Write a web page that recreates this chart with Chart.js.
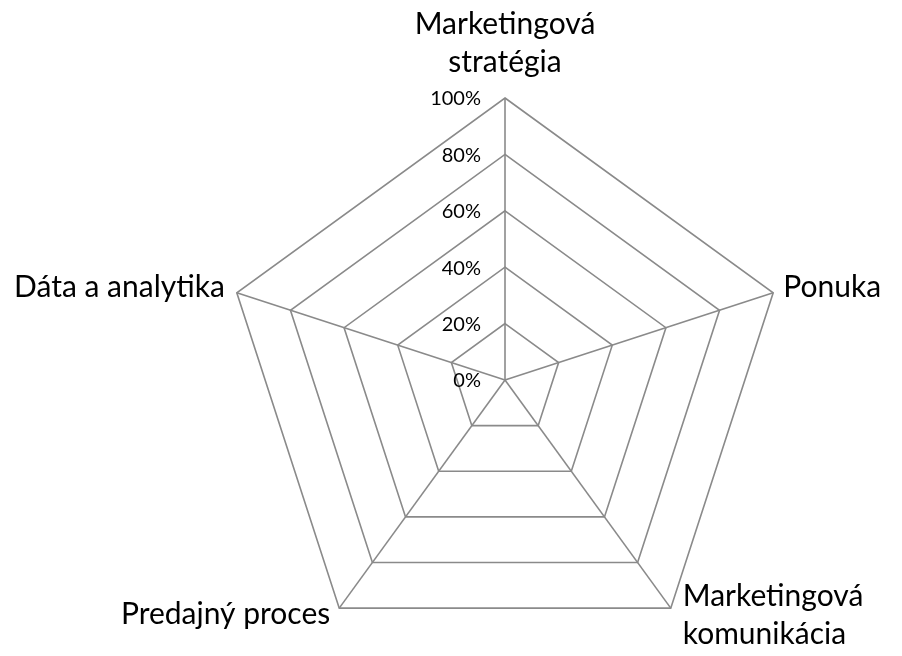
<!DOCTYPE html>
<html>
<head>
<meta charset="utf-8">
<script src="https://cdn.jsdelivr.net/npm/chart.js@4"></script>
<style>
  html, body { margin: 0; padding: 0; background: #fff; overflow: hidden; }
  #wrap { width: 902px; height: 656px; }
</style>
</head>
<body>
<div id="wrap"><canvas id="radarChart"></canvas></div>
<script>
// Categorias (eixos do radar)
const categories = [
    ['Marketingová', 'stratégia'],
    'Ponuka',
    ['Marketingová', 'komunikácia'],
    'Predajný proces',
    'Dáta a analytika'
];
// Série vazia no original (nenhuma área visível)
const seriesValues = [0, 0, 0, 0, 0];
// Marcas da escala radial
const tickValues = [0, 20, 40, 60, 80, 100];
const tickLabels = ['0%', '20%', '40%', '60%', '80%', '100%'];

const gridColor = '#8a8a8a';
const fontFamily = 'Lato, "Open Sans", sans-serif';

// Posição de cada rótulo em relação ao vértice externo: [alinhamento, dx, dy da 1a linha de base]
const labelPlacement = [
    ['center', 0, -64],
    ['left', 10, 4],
    ['left', 12, -2],
    ['right', -9, 16],
    ['right', -12, 4]
];

// Plugin que desenha rótulos dos eixos e das marcas usando a escala do Chart.js
const labelsPlugin = {
    id: 'radarLabels',
    afterDraw(chart) {
        const scale = chart.scales.r;
        const c = chart.ctx;
        c.save();
        c.fillStyle = '#000';

        // rótulos das marcas (0% ... 100%)
        c.font = '20px ' + fontFamily;
        c.textAlign = 'right';
        c.textBaseline = 'middle';
        tickValues.forEach((v, i) => {
            const d = scale.getDistanceFromCenterForValue(v);
            c.fillText(tickLabels[i], scale.xCenter - 24, scale.yCenter - d + 1);
        });

        // rótulos das categorias
        c.font = '30px ' + fontFamily;
        c.textBaseline = 'alphabetic';
        categories.forEach((lab, i) => {
            const p = scale.getPointPosition(i, scale.drawingArea);
            const [align, dx, dy] = labelPlacement[i];
            const lines = Array.isArray(lab) ? lab : [lab];
            c.textAlign = align;
            lines.forEach((t, k) => {
                c.fillText(t, p.x + dx, p.y + dy + k * 38);
            });
        });
        c.restore();
    }
};

new Chart(document.getElementById('radarChart'), {
    type: 'radar',
    data: {
        labels: categories,
        datasets: [{
            label: 'Séria 1',
            data: seriesValues,
            borderWidth: 0,
            pointRadius: 0,
            fill: false
        }]
    },
    options: {
        responsive: true,
        maintainAspectRatio: false,
        animation: false,
        layout: { padding: { left: 223, right: 115, top: 98, bottom: 0 } },
        plugins: {
            legend: { display: false },
            tooltip: { enabled: false }
        },
        scales: {
            r: {
                min: 0,
                max: 100,
                ticks: { stepSize: 20, display: false },
                pointLabels: { display: false },
                grid: { color: gridColor, lineWidth: 1.6 },
                angleLines: { color: gridColor, lineWidth: 1.6 },
                afterFit(scale) {
                    // mantém o raio pela largura disponível e o topo no limite superior
                    scale.drawingArea = Math.floor(scale.width / 2);
                    scale.yCenter = scale.top + scale.drawingArea;
                }
            }
        }
    },
    plugins: [labelsPlugin]
});
</script>
</body>
</html>
